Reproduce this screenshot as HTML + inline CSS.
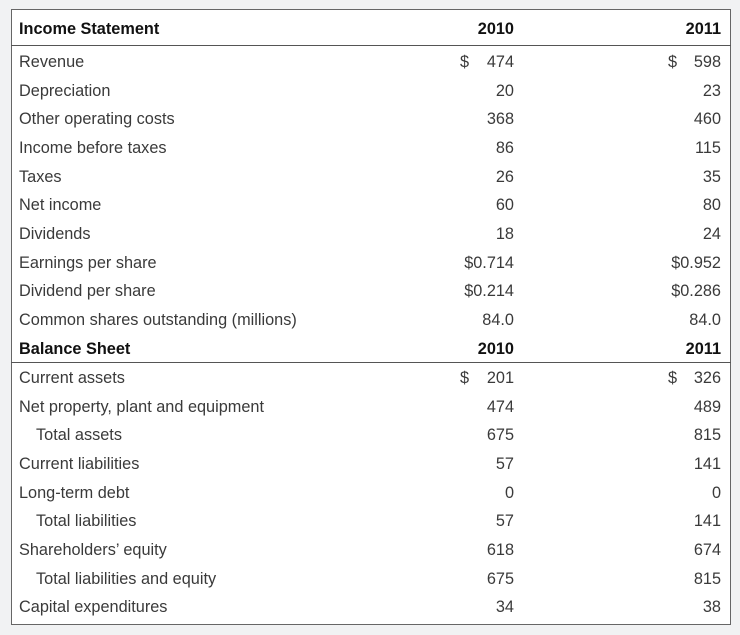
<!DOCTYPE html>
<html><head><style>
body{margin:0;width:740px;height:635px;background:#f1f2f3;font-family:"Liberation Sans",sans-serif;color:#3a3a3a;position:relative;overflow:hidden}
#box{position:absolute;left:11px;top:9px;width:718px;height:614px;background:#fff;border:1px solid #666}
.hl{position:absolute;left:11px;width:720px;height:1px;background:#555}
.r{position:absolute;height:20px;line-height:20px;font-size:16.3px;white-space:nowrap}
.b{font-weight:bold;color:#111}
</style></head><body>
<div id="box"></div>
<div class="hl" style="top:45px"></div>
<div class="hl" style="top:362px"></div>
<div id="c"></div>
<script>
var rows=[
["Income Statement","2010","2011",29,1],
["Revenue","$|474","$|598",62],
["Depreciation","20","23"],
["Other operating costs","368","460"],
["Income before taxes","86","115"],
["Taxes","26","35"],
["Net income","60","80"],
["Dividends","18","24"],
["Earnings per share","$0.714","$0.952"],
["Dividend per share","$0.214","$0.286"],
["Common shares outstanding (millions)","84.0","84.0"],
["Balance Sheet","2010","2011",349,1],
["Current assets","$|201","$|326",378],
["Net property, plant and equipment","474","489"],
["   Total assets","675","815"],
["Current liabilities","57","141"],
["Long-term debt","0","0"],
["   Total liabilities","57","141"],
["Shareholders\u2019 equity","618","674"],
["   Total liabilities and equity","675","815"],
["Capital expenditures","34","38"]];
var h="",y=0;
rows.forEach(function(r){
 if(r[3]!==undefined)y=r[3];
 var t=y-10,cl=r[4]?"r b":"r";
 var lab=r[0],ind=0;if(lab.indexOf("   ")==0){ind=17;lab=lab.trim();}
 h+='<div class="'+cl+'" style="left:'+(19+ind)+'px;top:'+t+'px">'+lab+'</div>';
 [[r[1],514,460],[r[2],721,668]].forEach(function(c){
  var v=c[0];
  if(v.indexOf("|")>0){v=v.split("|")[1];h+='<div class="r" style="left:'+c[2]+'px;top:'+t+'px">$</div>';}
  h+='<div class="'+cl+'" style="right:'+(740-c[1])+'px;top:'+t+'px">'+v+'</div>';
 });
 y+=28.65;
});
document.getElementById("c").innerHTML=h;
</script>
</body></html>
